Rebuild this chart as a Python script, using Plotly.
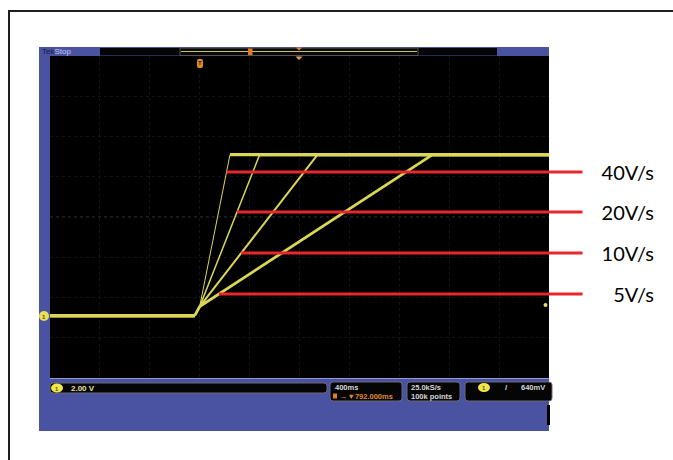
import numpy as np
import plotly.graph_objects as go

# ---------------- data ----------------
rate_labels = ["40V/s", "20V/s", "10V/s", "5V/s"]
time_40 = [-2.0, -0.84, -0.80, -0.557, 2.0]
time_20 = [-2.0, -0.84, -0.80, -0.319, 2.0]
time_10 = [-2.0, -0.84, -0.80, 0.145, 2.0]
time_5 = [-2.0, -0.84, -0.80, 1.067, 2.0]
volts = [-4.9, -4.9, -4.45, 3.1, 3.1]
pointer_levels = [2.24, 0.25, -1.79, -3.83]

series_times = [time_40, time_20, time_10, time_5]

# ---------------- layout constants ----------------
W, H = 673, 460
L, R, T, B = 50, 549, 56, 378  # black screen in pixels


def fx(p):
    return (p - L) / (R - L)


def fy(p):
    return (B - p) / (B - T)


TRACE = "#dad656"
RED = "#e8262c"
BLUE = "#4a53a1"

fig = go.Figure()

ramp_widths = [1.0, 1.5, 2.0, 2.8]
for t, w, name in zip(series_times, ramp_widths, rate_labels):
    fig.add_trace(go.Scatter(x=t[1:4], y=volts[1:4], mode="lines",
                             line=dict(color=TRACE, width=w), name=name,
                             hoverinfo="skip", showlegend=False))
for t in series_times:
    fig.add_trace(go.Scatter(x=t[0:2], y=volts[0:2], mode="lines",
                             line=dict(color=TRACE, width=3.2),
                             hoverinfo="skip", showlegend=False))
    fig.add_trace(go.Scatter(x=t[3:5], y=volts[3:5], mode="lines",
                             line=dict(color=TRACE, width=3.2),
                             hoverinfo="skip", showlegend=False))

shapes = []


def rect(x0, y0, x1, y1, fill, line=None, lw=0, layer="below"):
    shapes.append(dict(type="rect", xref="paper", yref="paper",
                       x0=fx(x0), x1=fx(x1), y0=fy(y1), y1=fy(y0),
                       fillcolor=fill, layer=layer,
                       line=dict(color=line or fill, width=lw)))


def rrect(x0, y0, x1, y1, fill, line, r=3, lw=1, layer="above"):
    rx, ry = r / (R - L), r / (B - T)
    a0, a1, b0, b1 = fx(x0), fx(x1), fy(y1), fy(y0)
    path = (f"M{a0+rx},{b0} L{a1-rx},{b0} Q{a1},{b0} {a1},{b0+ry} "
            f"L{a1},{b1-ry} Q{a1},{b1} {a1-rx},{b1} L{a0+rx},{b1} "
            f"Q{a0},{b1} {a0},{b1-ry} L{a0},{b0+ry} Q{a0},{b0} {a0+rx},{b0} Z")
    shapes.append(dict(type="path", xref="paper", yref="paper", path=path,
                       fillcolor=fill, layer=layer, line=dict(color=line, width=lw)))


def circle(cx, cy, rx, ry, fill, layer="above"):
    shapes.append(dict(type="circle", xref="paper", yref="paper",
                       x0=fx(cx - rx), x1=fx(cx + rx), y0=fy(cy + ry), y1=fy(cy - ry),
                       fillcolor=fill, layer=layer, line=dict(color=fill, width=0)))


def hline(x0, x1, y, color, w=1, dash="solid", layer="below"):
    shapes.append(dict(type="line", xref="paper", yref="paper",
                       x0=fx(x0), x1=fx(x1), y0=fy(y), y1=fy(y), layer=layer,
                       line=dict(color=color, width=w, dash=dash)))


def vline(x, y0, y1, color, w=1, dash="solid", layer="below"):
    shapes.append(dict(type="line", xref="paper", yref="paper",
                       x0=fx(x), x1=fx(x), y0=fy(y0), y1=fy(y1), layer=layer,
                       line=dict(color=color, width=w, dash=dash)))


# outer page frame
shapes.append(dict(type="path", xref="paper", yref="paper",
                   path=f"M{fx(9)},{fy(470)} L{fx(9)},{fy(11)} L{fx(690)},{fy(11)}",
                   line=dict(color="#1e1e1e", width=2), layer="below"))
# scope panel
rect(39, 47, 549, 431, BLUE)
rect(L, T, R, B, "#000000")
hline(L, R, B + 0.5, "#8f9bd6", 1)
# top status strip
rect(100, 48, 497, 55.5, "#050505")
rect(180, 48, 418, 55.5, "#0a0a0a", "#555555", 1)
hline(181, 417, 51.5, "#c9c25a", 1.2)
rect(248, 48.5, 252.5, 55, "#e07a22", layer="above")
shapes.append(dict(type="path", xref="paper", yref="paper",
                   path=f"M{fx(296)},{fy(47.5)} L{fx(302)},{fy(47.5)} L{fx(299)},{fy(50.5)} Z",
                   fillcolor="#e88a3a", line=dict(width=0), layer="above"))
shapes.append(dict(type="path", xref="paper", yref="paper",
                   path=f"M{fx(295.5)},{fy(56.5)} L{fx(302.5)},{fy(56.5)} L{fx(299)},{fy(60)} Z",
                   fillcolor="#e8a060", line=dict(width=0), layer="above"))
# trigger-position marker
rrect(197, 59, 203, 68, "#e08a30", "#e08a30", r=2, lw=0)
# centre cross of the graticule
hline(L, R, (T + B) / 2, "#383838", 1, "dot")
vline((L + R) / 2, T, B, "#383838", 1, "dot")
# channel marker and trigger level marker
circle(44, 316, 5, 5, "#e6e05a")
circle(545.5, 305, 2, 2, "#e6e070")
# bottom readouts
rrect(50, 383, 327, 393, "#050505", "#6b6b7a")
circle(57, 388, 6, 4.5, "#f0e84a")
rrect(330, 382, 402, 401, "#050505", "#6b6b7a")
rect(333, 393.5, 337, 398.5, "#e07a22", layer="above")
rrect(407, 382, 460, 401, "#050505", "#6b6b7a")
rrect(465, 382, 552, 401, "#050505", "#6b6b7a")
circle(484, 387.5, 6, 4.5, "#f0e84a")
rect(547, 405, 550, 425, "#000000", layer="above")

annotations = []


def txt(x, y, s, color, size=8, anchor="left", bold=False, font="Liberation Sans"):
    annotations.append(dict(xref="paper", yref="paper", x=fx(x), y=fy(y),
                            text=f"<b>{s}</b>" if bold else s, showarrow=False,
                            xanchor=anchor, yanchor="middle",
                            font=dict(family=font, size=size, color=color)))


txt(40, 51.5, "<span style='color:#1a1a3a'>Tek</span>Stop", "#c3c9ee", 8)
txt(200, 63.5, "T", "#3a2000", 6, "center", True)
txt(44, 316.5, "1", "#5a5000", 6, "center", True)
txt(57, 388.5, "1", "#5a5000", 6, "center", True)
txt(69, 388.5, "2.00 V", "#e6e2a0", 8, bold=True)
txt(333, 387, "400ms", "#d8d8d8", 7.5, bold=True)
txt(338, 396, "→▼792.000ms", "#e08a30", 7.5, bold=True)
txt(409, 387, "25.0kS/s", "#d8d8d8", 7.5, bold=True)
txt(409, 396, "100k points", "#d8d8d8", 7.5, bold=True)
txt(484, 388, "1", "#5a5000", 6, "center", True)
txt(506, 387.5, "/", "#d8d8d8", 8, "center", True)
txt(547, 387.5, "640mV", "#d8d8d8", 7.5, "right", True)

# pointer lines + labels: each line starts where the level meets its ramp
label_center_t = (625 - L) / (R - L) * 4 - 2
for t, lvl, lab in zip(series_times, pointer_levels, rate_labels):
    t_hit = float(np.interp(lvl, volts[2:4], t[2:4]))
    annotations.append(dict(
        x=t_hit, y=lvl, xref="x", yref="y",
        ax=label_center_t, ay=lvl, axref="x", ayref="y",
        text=lab, showarrow=True, arrowhead=0, arrowwidth=3, arrowcolor=RED,
        startstandoff=13, standoff=0, width=58, align="right", borderpad=0,
        font=dict(family="Lato", size=20, color="#000000")))

fig.update_layout(
    width=W, height=H,
    margin=dict(l=L, r=W - R, t=T, b=H - B, pad=0),
    paper_bgcolor="#ffffff", plot_bgcolor="#000000",
    showlegend=False,
    shapes=shapes, annotations=annotations,
    xaxis=dict(range=[-2, 2], dtick=0.4, tick0=-2, showgrid=True,
               gridcolor="#141414", griddash="dot", gridwidth=1,
               zeroline=False, showticklabels=False, ticks="", fixedrange=True),
    yaxis=dict(range=[-8, 8], dtick=2, tick0=-8, showgrid=True,
               gridcolor="#141414", griddash="dot", gridwidth=1,
               zeroline=False, showticklabels=False, ticks="", fixedrange=True),
)

fig.write_html("out.html", config={"displayModeBar": False},
               post_script="document.body.style.margin='0';")
